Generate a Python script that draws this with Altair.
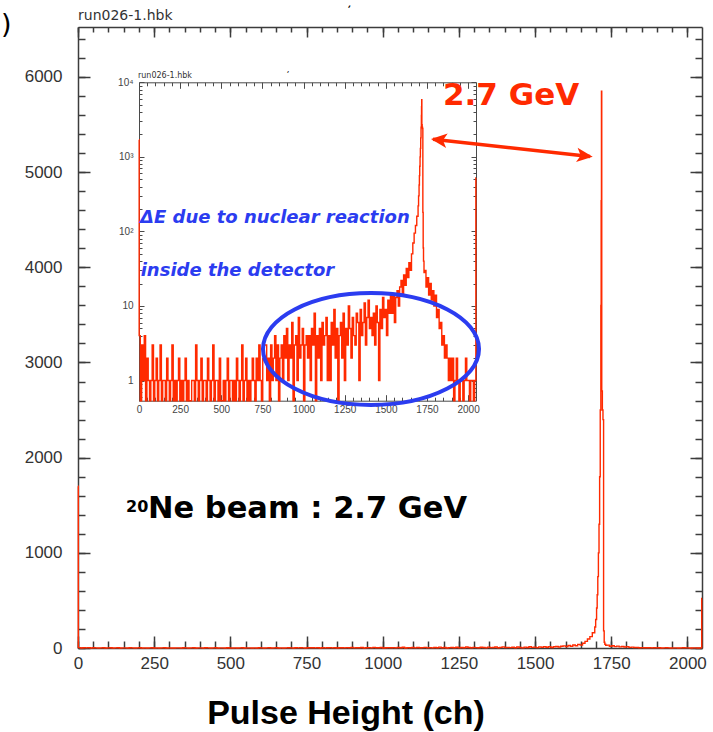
import altair as alt
import pandas as pd

# ---------------- data ----------------
CH0_COUNT = 1700          # channel 0 spike
BIN_WIDTH = 8             # width of the coarse bins below the peak / in the tail
# counts of 8-channel bins from channel 0 up to 1695 (bin 0 covers channels 1..7)
COUNTS_LOW = [
    4, 0, 3, 1, 4, 0, 2, 1, 0, 1, 3, 0, 1, 2, 0, 1,        # 0-127
    3, 0, 1, 1, 0, 2, 1, 0, 1, 3, 0, 1, 0, 1, 2, 0,        # 128-255
    1, 0, 1, 2, 0, 1, 0, 0, 1, 1, 0, 3, 1, 0, 1, 2,        # 256-383
    0, 1, 1, 0, 2, 1, 0, 1, 3, 0, 1, 1, 0, 2, 0, 0,        # 384-511
    1, 0, 1, 2, 0, 1, 1, 0, 1, 0, 2, 1, 0, 1, 3, 0,        # 512-639
    1, 2, 0, 1, 0, 1, 2, 1, 0, 2, 1, 3, 1, 0, 2, 3,        # 640-767
    3, 1, 2, 0, 3, 1, 2, 4, 1, 3, 0, 2, 3, 1, 4, 2,        # 768-895
    5, 1, 3, 2, 6, 0, 3, 4, 1, 7, 2, 3, 5, 0, 3, 4,        # 896-1023
    2, 4, 1, 5, 3, 8, 0, 4, 2, 5, 1, 6, 3, 4, 7, 1,        # 1024-1151
    4, 1, 6, 3, 9, 2, 5, 0, 4, 6, 2, 8, 1, 5, 3, 10,       # 1152-1279
    5, 2, 7, 4, 3, 8, 6, 1, 9, 4, 6, 11, 3, 7, 12, 5,      # 1280-1407
    7, 4, 8, 3, 10, 6, 1, 9, 5, 13, 7, 9, 4, 12, 8, 14,    # 1408-1535
    8, 14, 6, 13, 16, 10, 18, 22, 14, 26, 19, 32, 24, 38, 30, 50,  # 1536-1663
    70, 95, 120, 160,                                      # 1664-1695
]
# fine detail of the 2.7 GeV peak
PEAK_CH = [1696, 1699, 1702, 1704, 1706, 1708, 1710, 1712, 1714, 1716, 1717, 1718,
           1719, 1721, 1723, 1725, 1727, 1729, 1732]
PEAK_COUNTS = [220, 300, 420, 560, 750, 1000, 1300, 1800, 2500, 3600, 4700, 5850,
               2700, 2500, 2400, 180, 60, 40, 28]
TAIL_START = 1736
TAIL_COUNTS = [
    30, 18, 24, 14, 20, 12, 16,                             # 1736-1791
    10, 14, 7, 9, 5, 6, 3, 4, 2, 3, 2, 1, 2, 1, 2, 0,       # 1792-1919
    1, 2, 1, 0, 1, 1, 0, 1, 2, 1, 1, 0, 1, 1, 0, 1,         # 1920-2047
]
LAST_CH = 2047
LAST_CH_COUNT = 520
CH_MAX = 2048
Y_MAX = 6525

X_TICKS_MAJOR = [0, 250, 500, 750, 1000, 1250, 1500, 1750, 2000]
X_TICKS_MINOR = list(range(0, 2001, 50))
Y_MAIN_MAJOR = [0, 1000, 2000, 3000, 4000, 5000, 6000]
Y_MAIN_MINOR = list(range(0, 6401, 200))
Y_INSET_MAJOR = [1, 10, 100, 1000, 10000]
Y_INSET_MINOR = [0.6, 0.7, 0.8, 0.9] + [m * d for d in [1, 10, 100, 1000] for m in range(2, 10)]

# ---------------- table ----------------
ch, cnt = [0], [CH0_COUNT]
for i, v in enumerate(COUNTS_LOW):
    ch.append(max(1, i * BIN_WIDTH))
    cnt.append(v)
ch += PEAK_CH
cnt += PEAK_COUNTS
for i, v in enumerate(TAIL_COUNTS):
    ch.append(TAIL_START + i * BIN_WIDTH)
    cnt.append(v)
ch += [LAST_CH, CH_MAX]
cnt += [LAST_CH_COUNT, LAST_CH_COUNT]
df = pd.DataFrame({"ch": ch, "count": cnt})

RED = "#ff2a00"
BLUE = "#2b3cf0"
FRAME = "#3c3c3c"
ICOL = "#4a4a4a"
W, H = 624, 621
IL, IR, IT, IB = 61, 398, 55.3, 373.7

MX = alt.Scale(domain=[0, CH_MAX], nice=False, zero=False)
MY = alt.Scale(domain=[0, Y_MAX], nice=False, zero=False)
IX = alt.Scale(domain=[0, CH_MAX], range=[IL, IR], nice=False, zero=False)
IY = alt.Scale(type="log", domain=[0.537, 10000], range=[IB, IT], nice=False, clamp=True)

dummy = pd.DataFrame({"x": [1000.0], "y": [1.0]})


def tick_axis(orient, values, offset, size, col, tw):
    return alt.Axis(orient=orient, offset=offset, ticks=True, tickSize=size, values=values,
                    labels=False, domain=False, title=None, grid=False, tickColor=col, tickWidth=tw)


def frame_axis(orient, offset, col, tw):
    return alt.Axis(orient=orient, offset=offset, ticks=False, labels=False, domain=True,
                    title=None, grid=False, domainColor=col, domainWidth=tw)


def axis_layer(xs, ys, xa, ya):
    return alt.Chart(dummy).mark_point(opacity=0).encode(
        x=alt.X("x:Q", scale=xs, axis=xa), y=alt.Y("y:Q", scale=ys, axis=ya))


# labelled axes carry the major ticks: the axis line sits inside by the tick length,
# so the ticks point inwards and the labels stay just outside the frame
main_line = alt.Chart(df).mark_line(interpolate="step-after", color=RED, strokeWidth=1.4).encode(
    x=alt.X("ch:Q", scale=MX, axis=alt.Axis(
        orient="bottom", offset=-12, values=X_TICKS_MAJOR, format="d", ticks=True, tickSize=12,
        tickColor=FRAME, tickWidth=1.5, domain=False, title=None, grid=False,
        labelFont="Liberation Sans", labelFontSize=17, labelColor="#333333", labelPadding=7,
        labelFlush=False, labelOverlap=False)),
    y=alt.Y("count:Q", scale=MY, axis=alt.Axis(
        orient="left", offset=-12, values=Y_MAIN_MAJOR, format="d", ticks=True, tickSize=12,
        tickColor=FRAME, tickWidth=1.5, domain=False, title=None, grid=False,
        labelFont="Liberation Sans", labelFontSize=17, labelColor="#333333", labelPadding=16,
        labelFlush=False, labelOverlap=False)),
)

inset_line = alt.Chart(df).transform_calculate(disp="max(datum['count'], 0.3)").mark_line(
    interpolate="step-after", color=RED, strokeWidth=1.4).encode(
    x=alt.X("ch:Q", scale=IX, axis=alt.Axis(
        orient="bottom", offset=-(H - IB) - 6, values=X_TICKS_MAJOR, format="d", ticks=True, tickSize=6,
        tickColor=ICOL, tickWidth=1, domain=False, title=None, grid=False,
        labelFont="Liberation Sans", labelFontSize=10, labelColor="#444444",
        labelPadding=4, labelFlush=False, labelOverlap=False)),
    y=alt.Y("disp:Q", scale=IY, axis=alt.Axis(
        orient="left", offset=-IL - 5, values=Y_INSET_MAJOR, ticks=True, tickSize=5,
        tickColor=ICOL, tickWidth=1, domain=False, title=None, grid=False,
        labelFont="Liberation Sans", labelFontSize=10, labelColor="#444444",
        labelPadding=6, labelFlush=False, labelOverlap=False,
        labelExpr="datum.value >= 9999 ? '10⁴' : datum.value >= 999 ? '10³' : datum.value >= 99 ? '10²' : datum.value >= 9 ? '10' : '1'")),
)

frames = [
    axis_layer(MX, MY, frame_axis("bottom", 0, FRAME, 1.5), frame_axis("left", 0, FRAME, 1.5)),
    axis_layer(MX, MY, frame_axis("top", 0, FRAME, 1.5), frame_axis("right", 0, FRAME, 1.5)),
    axis_layer(IX, IY, frame_axis("bottom", -(H - IB), ICOL, 1), frame_axis("left", -IL, ICOL, 1)),
    axis_layer(IX, IY, frame_axis("top", -IT, ICOL, 1), frame_axis("right", -(W - IR), ICOL, 1)),
]

tick_layers = [
    axis_layer(MX, MY, tick_axis("bottom", X_TICKS_MINOR, -7, 7, FRAME, 1.5),
               tick_axis("left", Y_MAIN_MINOR, -7, 7, FRAME, 1.5)),
    axis_layer(MX, MY, tick_axis("top", X_TICKS_MAJOR, -10, 10, FRAME, 1.5),
               tick_axis("right", Y_MAIN_MAJOR, -12, 12, FRAME, 1.5)),
    axis_layer(MX, MY, tick_axis("top", X_TICKS_MINOR, -5, 5, FRAME, 1.5),
               tick_axis("right", Y_MAIN_MINOR, -7, 7, FRAME, 1.5)),
    axis_layer(IX, IY, tick_axis("bottom", X_TICKS_MINOR, -(H - IB) - 3.5, 3.5, ICOL, 1),
               tick_axis("left", Y_INSET_MINOR, -IL - 3, 3, ICOL, 1)),
    axis_layer(IX, IY, tick_axis("top", X_TICKS_MAJOR, -IT - 6, 6, ICOL, 1),
               tick_axis("right", Y_INSET_MAJOR, -(W - IR) - 5, 5, ICOL, 1)),
    axis_layer(IX, IY, tick_axis("top", X_TICKS_MINOR, -IT - 3.5, 3.5, ICOL, 1),
               tick_axis("right", Y_INSET_MINOR, -(W - IR) - 3, 3, ICOL, 1)),
]

one = pd.DataFrame({"a": [0]})


def text(t, x, y, size, color="#000000", font="DejaVu Sans", weight="normal", style="normal", align="left", angle=0):
    kw = dict(text=t, fontSize=size, color=color, font=font, fontWeight=weight, fontStyle=style,
              align=align, baseline="alphabetic")
    if angle:
        kw["angle"] = angle
    return alt.Chart(one).mark_text(**kw).encode(x=alt.value(x), y=alt.value(y))


ELLIPSE = ("M -1 0 C -1 -0.2864 -0.5523 -0.5185 0 -0.5185 C 0.5523 -0.5185 1 -0.2864 1 0 "
           "C 1 0.2864 0.5523 0.5185 0 0.5185 C -0.5523 0.5185 -1 0.2864 -1 0 Z")
ellipse = alt.Chart(one).mark_point(shape=ELLIPSE, filled=False, stroke=BLUE, strokeWidth=4,
                                    size=46656, opacity=1).encode(x=alt.value(293), y=alt.value(322))

arrow_df = pd.DataFrame({"px": [355, 512], "py": [112.2, 129.5]})
shaft = alt.Chart(arrow_df).mark_line(color=RED, strokeWidth=3.5).encode(
    x=alt.X("px:Q", scale=None, axis=None), y=alt.Y("py:Q", scale=None, axis=None))
head_r = alt.Chart(one).mark_point(shape="M0,0 L-2,-0.9 L-1.5,0 L-2,0.9 Z", filled=True, color=RED,
                                   size=256, angle=6.3, opacity=1, strokeWidth=0).encode(
    x=alt.value(514.7), y=alt.value(129.7))
head_l = alt.Chart(one).mark_point(shape="M0,0 L2,-0.9 L1.5,0 L2,0.9 Z", filled=True, color=RED,
                                   size=256, angle=6.3, opacity=1, strokeWidth=0).encode(
    x=alt.value(353), y=alt.value(112))

texts = [
    text(")", -77, 6, 27),
    text("run026-1.hbk", 0, -7, 14, color="#333333"),
    text("'", 267, -16, 10, weight="bold", angle=30),
    text("run026-1.hbk", 60, 51, 8, color="#333333"),
    text("'", 207, 48, 7, weight="bold", angle=30),
    text("2.7 GeV", 365, 78, 31, color=RED, weight="bold"),
    text("ΔE due to nuclear reaction", 62, 196, 18, color=BLUE, weight="bold", style="italic"),
    text("inside the detector", 62.7, 249, 18, color=BLUE, weight="bold", style="italic"),
    text("20", 48, 484.7, 16, weight="bold"),
    text("Ne beam : 2.7 GeV", 70, 491, 30.5, weight="bold"),
    text("Pulse Height (ch)", 268, 697, 34, font="Liberation Sans", weight="bold", align="center"),
]

chart = alt.layer(
    main_line, inset_line, *frames, *tick_layers, ellipse, shaft, head_r, head_l, *texts
).resolve_scale(x="independent", y="independent").properties(
    width=W, height=H,
    autosize=alt.AutoSizeParams(type="none"),
    padding={"left": 78, "top": 27, "right": 11, "bottom": 84},
    background="white",
).configure_view(strokeWidth=0).configure_axis(grid=False)

chart.save("out.html", embed_options={"renderer": "svg", "actions": False})
